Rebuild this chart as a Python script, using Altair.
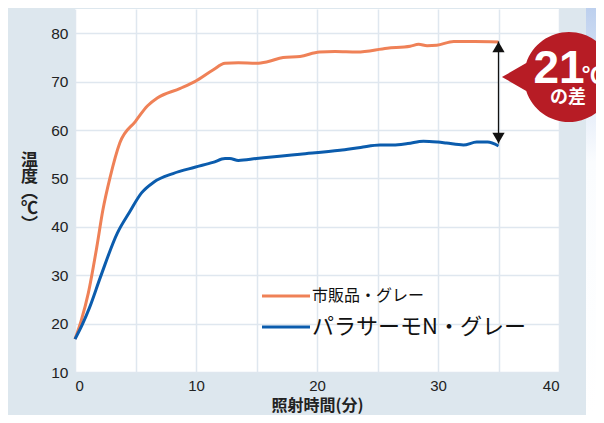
import altair as alt
import pandas as pd

# ---- data ----
t_market = [0, 0.5, 1.1, 1.8, 2.3, 2.9, 3.7, 5.0, 6.0, 6.8, 8.7, 9.9, 11.4, 12.4, 13.5,
            15.0, 15.9, 17.2, 18.6, 20.2, 21.5, 23.3, 25.8, 27.7, 28.4, 29.1, 29.9, 31.3, 33.0, 35.0]
market = [16.8, 20.5, 26.3, 35.8, 43.4, 50.2, 57.3, 61.8, 65.0, 66.6, 68.6, 70.0, 72.4, 73.8, 73.9,
          73.8, 74.1, 75.0, 75.2, 76.1, 76.2, 76.1, 76.9, 77.3, 77.7, 77.4, 77.5, 78.3, 78.3, 78.2]

t_para = [0, 0.6, 1.2, 2.1, 3.5, 4.5, 5.5, 6.5, 8.1, 9.9, 11.4, 12.4, 12.8, 13.5, 15.0,
          16.9, 18.6, 21.9, 23.6, 25.2, 26.3, 27.5, 28.8, 30.0, 30.7, 32.1, 33.2, 34.1, 35.0]
para = [16.8, 19.8, 23.3, 29.6, 38.7, 43.0, 47.0, 49.2, 51.0, 52.3, 53.3, 54.1, 54.1, 53.7, 54.1,
        54.6, 55.0, 55.8, 56.4, 56.9, 56.9, 57.2, 57.7, 57.5, 57.3, 56.9, 57.5, 57.5, 56.7]

series_names = ["市販品・グレー", "パラサーモN・グレー"]
series_colors = ["#ef8157", "#0b5cad"]
x_ticks = [0, 5, 10, 15, 20, 25, 30, 35, 40]
y_ticks = [10, 20, 30, 40, 50, 60, 70, 80]

arrow_x = [35]
arrow_top = [78.3]
arrow_bottom = [57.2]

df = pd.concat([
    pd.DataFrame({"t": t_market, "v": market, "series": series_names[0], "o": 0}),
    pd.DataFrame({"t": t_para, "v": para, "series": series_names[1], "o": 1}),
])
arrow_df = pd.DataFrame({"t": arrow_x, "top": arrow_top, "bottom": arrow_bottom})
one = pd.DataFrame({"a": [0]})

W, H = 484, 363
JP = "Noto Sans CJK JP"
LAT = "Liberation Sans, Noto Sans CJK JP"
GRID = "#dfe7ef"

xscale = alt.Scale(domain=[0, 40], nice=False, zero=False)
yscale = alt.Scale(domain=[10, 85], nice=False, zero=False)

# right gradient strip
strip = alt.Chart(one).mark_rect(
    fill=alt.Gradient(gradient="linear", x1=0, y1=0, x2=0, y2=1,
                      stops=[alt.GradientStop(color="#bdd0ee", offset=0),
                             alt.GradientStop(color="#e3ebf8", offset=0.22),
                             alt.GradientStop(color="#fafcfe", offset=0.38),
                             alt.GradientStop(color="#ffffff", offset=1)])
).encode(x=alt.value(511), x2=alt.value(522), y=alt.value(-1), y2=alt.value(406))

lines = alt.Chart(df).mark_line(strokeWidth=3, interpolate="monotone").encode(
    x=alt.X("t:Q", scale=xscale,
            axis=alt.Axis(values=x_ticks, labelExpr="datum.value % 10 == 0 ? datum.label : ''",
                          grid=True, gridColor=GRID, gridWidth=1.5, ticks=False, domain=False,
                          labelFont=LAT, labelFontSize=15, labelColor="#222", labelPadding=6,
                          title="照射時間(分)", titleFont=JP, titleFontSize=16, titleFontWeight="bold",
                          titleColor="#222", titleY=25, titleBaseline="top")),
    y=alt.Y("v:Q", scale=yscale,
            axis=alt.Axis(values=y_ticks, grid=True, gridColor=GRID, gridWidth=1.5, ticks=False,
                          domain=False, labelFont=LAT, labelFontSize=15.5, labelColor="#222",
                          labelPadding=7,
                          title=["温", "度", "︵", "℃", "︶"], titleAngle=0, titleX=-46, titleY=143,
                          titleAlign="center", titleBaseline="top", titleLineHeight=16,
                          titleFont=JP, titleFontSize=17, titleFontWeight="bold", titleColor="#222")),
    color=alt.Color("series:N", scale=alt.Scale(domain=series_names, range=series_colors), legend=None),
    order="o:Q",
)

arrow_line = alt.Chart(arrow_df).mark_rule(color="#111", strokeWidth=1.3).encode(
    x=alt.X("t:Q", scale=xscale), y=alt.Y("top:Q", scale=yscale), y2="bottom:Q")
arrow_up = alt.Chart(arrow_df).mark_point(shape="triangle-up", filled=True, color="#111",
                                          size=150, opacity=1, yOffset=5.5).encode(
    x=alt.X("t:Q", scale=xscale), y=alt.Y("top:Q", scale=yscale))
arrow_down = alt.Chart(arrow_df).mark_point(shape="triangle-down", filled=True, color="#111",
                                            size=150, opacity=1, yOffset=-5.5).encode(
    x=alt.X("t:Q", scale=xscale), y=alt.Y("bottom:Q", scale=yscale))

# legend (custom)
leg_line0 = alt.Chart(one).mark_rule(color=series_colors[0], strokeWidth=3).encode(
    x=alt.value(187), x2=alt.value(235), y=alt.value(287))
leg_line1 = alt.Chart(one).mark_rule(color=series_colors[1], strokeWidth=3).encode(
    x=alt.value(187), x2=alt.value(235), y=alt.value(318))
leg_text0 = alt.Chart(one).mark_text(text=series_names[0], font=JP, fontSize=16, color="#111",
                                     align="left", baseline="middle").encode(
    x=alt.value(237), y=alt.value(287))
leg_text1 = alt.Chart(one).mark_text(text=series_names[1], font=JP, fontSize=22, color="#111",
                                     align="left", baseline="middle").encode(
    x=alt.value(237), y=alt.value(318))

# bubble
bubble = alt.Chart(one).mark_point(
    shape="M -1.49 0 L -0.95 -0.31 A 1 1 0 1 1 -0.95 0.31 Z",
    filled=True, fill="#b71c25", opacity=1, strokeWidth=0, size=8100
).encode(x=alt.value(494), y=alt.value(68))
b21 = alt.Chart(one).mark_text(text="21", font="Liberation Sans", fontSize=46, fontWeight="bold",
                               color="white", align="center", baseline="alphabetic").encode(
    x=alt.value(484), y=alt.value(74))
bdeg = alt.Chart(one).mark_text(text="℃", font=JP, fontSize=22, fontWeight="bold",
                                color="white", align="left", baseline="alphabetic").encode(
    x=alt.value(507), y=alt.value(74))
bsa = alt.Chart(one).mark_text(text="の差", font=JP, fontSize=18, fontWeight="bold",
                               color="white", align="center", baseline="middle").encode(
    x=alt.value(493), y=alt.value(89))

chart = alt.layer(strip, lines, arrow_line, arrow_up, arrow_down,
                  leg_line0, leg_line1, leg_text0, leg_text1, bubble, b21, bdeg, bsa).properties(
    width=W, height=H,
    autosize=alt.AutoSizeParams(type="none"),
    padding={"left": 67, "top": 1, "right": 37, "bottom": 43},
    background="#dde7ee",
).configure_view(stroke=None, fill="white")

chart.save("out.html", embed_options={"renderer": "svg", "actions": False})
